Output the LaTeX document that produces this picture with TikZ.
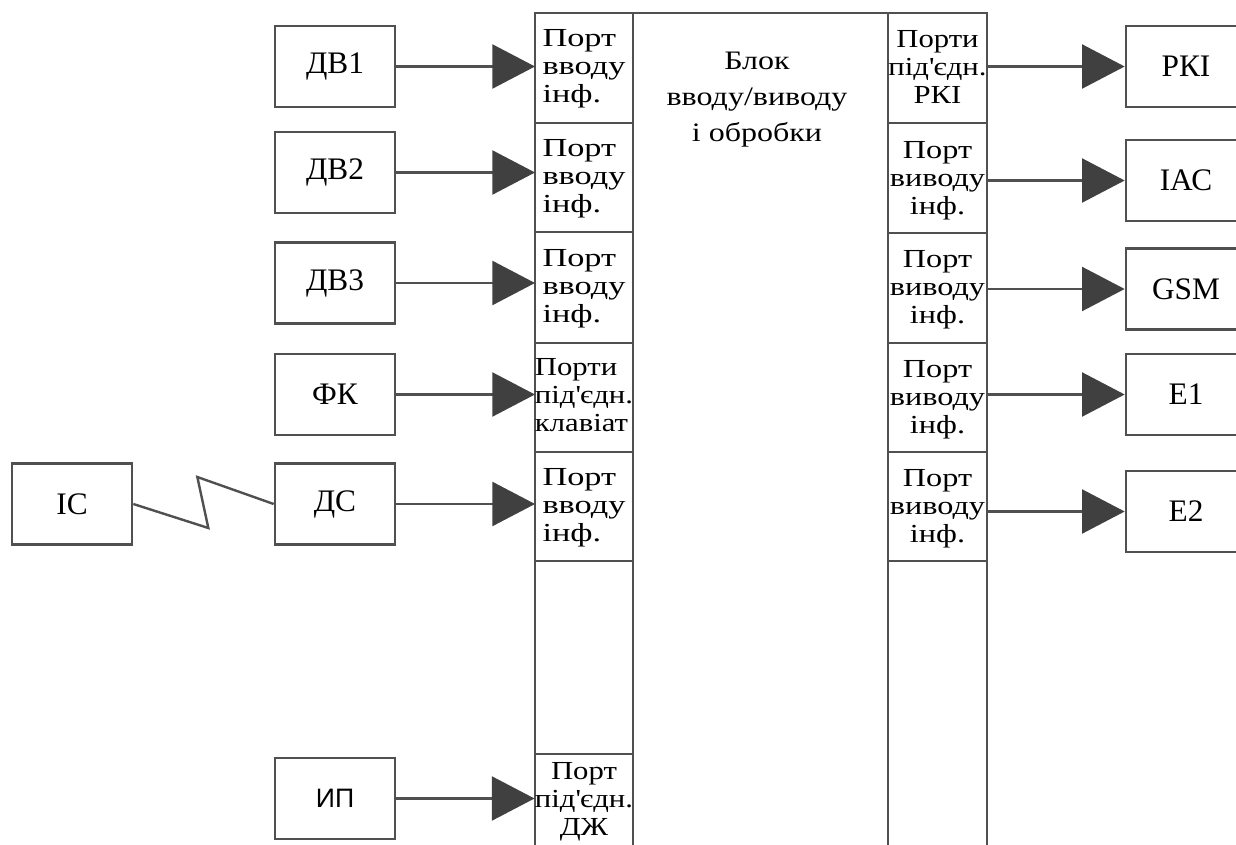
\documentclass[tikz,border=0pt]{standalone}
\usepackage{fontspec}
\setmainfont{Liberation Serif}
\newfontfamily\cellfont{Liberation Serif}[FakeStretch=1.32]
\newfontfamily\outfont{Liberation Serif}[FakeStretch=1.24]
\newfontfamily\narrowfont{Liberation Serif}[FakeStretch=1.18]
\newfontfamily\blockfont{Liberation Serif}[FakeStretch=1.2]
\newfontfamily\ipfont{Liberation Sans}
\usetikzlibrary{arrows.meta}
\definecolor{linegray}{RGB}{80,80,80}
\definecolor{tipgray}{RGB}{64,64,64}

\tikzset{every picture/.style={line width=0.75pt}}
\tikzset{
  unitbox/.style={draw=linegray, line width=2pt, minimum width=90pt, minimum height=60.75pt, inner sep=0pt, font=\fontsize{23.5}{27}\selectfont},
  lport/.style={minimum width=73.5pt, inner sep=0pt, outer sep=0pt, align=left, font=\cellfont\fontsize{19.5}{21}\selectfont},
  rport/.style={minimum width=74.25pt, inner sep=0pt, outer sep=0pt, align=center, font=\outfont\fontsize{19.5}{21}\selectfont},
  narrow/.style={font=\narrowfont\fontsize{19.5}{21}\selectfont},
  frame/.style={draw=linegray, line width=2pt},
  flow/.style={draw=linegray, line width=1.8pt, -{Triangle[length=32pt,width=33pt,color=tipgray]}},
  radiolink/.style={draw=linegray, line width=1.8pt},
}

\begin{document}
\begin{tikzpicture}[x=0.75pt,y=0.75pt,yscale=-1,xscale=1]
\useasboundingbox (0,0) rectangle (1236,845);
\clip (0,0) rectangle (1236,845);
%Shape: Rectangle [main block]
\draw[frame] (535,13) rectangle (987,870);
%Straight Lines [column borders]
\draw[frame] (633,13) -- (633,870);
\draw[frame] (888,13) -- (888,870);
%Straight Lines [left cells]
\foreach \y in {123,232,343,452,561,754}
  \draw[frame] (535,\y) -- (633,\y);
%Straight Lines [right cells]
\foreach \y in {123,233,343,452,561}
  \draw[frame] (888,\y) -- (987,\y);
% Text Node
\node[align=center, inner sep=0pt, font=\blockfont\fontsize{20}{27}\selectfont] (blok) at (757,100) {Блок\\вводу/виводу\\і обробки};
% Text Node [input ports]
\node[lport] (pin1) at (584,69) {Порт\\вводу\\інф.};
\node[lport] (pin2) at (584,179) {Порт\\вводу\\інф.};
\node[lport] (pin3) at (584,289) {Порт\\вводу\\інф.};
\node[lport, narrow] (pkey) at (584,395) {Порти\\під\textquotesingle єдн.\\клавіат};
\node[lport] (pin5) at (584,508) {Порт\\вводу\\інф.};
\node[rport, narrow] (pdz) at (584,802) {Порт\\під\textquotesingle єдн.\\ДЖ};
% Text Node [output ports]
\node[rport, narrow] (prki) at (937.5,67) {Порти\\під\textquotesingle єдн.\\РКІ};
\node[rport] (pout2) at (937.5,181) {Порт\\виводу\\інф.};
\node[rport] (pout3) at (937.5,290) {Порт\\виводу\\інф.};
\node[rport] (pout4) at (937.5,400) {Порт\\виводу\\інф.};
\node[rport] (pout5) at (937.5,509) {Порт\\виводу\\інф.};
%Shape: Rectangle [sources]
\node[unitbox] (dv1) at (335,66.5) {ДВ1};
\node[unitbox] (dv2) at (335,172.5) {ДВ2};
\node[unitbox] (dv3) at (335,283) {ДВ3};
\node[unitbox] (fk) at (335,394.5) {ФК};
\node[unitbox] (ds) at (335,504) {ДС};
\node[unitbox, font=\ipfont\fontsize{20}{24}\selectfont] (ip) at (335,798.5) {ИП};
\node[unitbox] (ic) at (72,504) {ІС};
%Shape: Rectangle [receivers]
\node[unitbox] (rki) at (1186,66.5) {РКІ};
\node[unitbox] (ias) at (1186,180.5) {ІАС};
\node[unitbox] (gsm) at (1186,289) {GSM};
\node[unitbox] (e1) at (1186,394.5) {Е1};
\node[unitbox] (e2) at (1186,511.5) {Е2};
%Straight Lines [inputs]
\draw[flow] (dv1.east) -- (dv1 -| pin1.west);
\draw[flow] (dv2.east) -- (dv2 -| pin2.west);
\draw[flow] (dv3.east) -- (dv3 -| pin3.west);
\draw[flow] (fk.east) -- (fk -| pkey.west);
\draw[flow] (ds.east) -- (ds -| pin5.west);
\draw[flow] (ip.east) -- (ip -| pdz.west);
%Straight Lines [outputs]
\draw[flow] (rki -| prki.east) -- (rki.west);
\draw[flow] (ias -| pout2.east) -- (ias.west);
\draw[flow] (gsm -| pout3.east) -- (gsm.west);
\draw[flow] (e1 -| pout4.east) -- (e1.west);
\draw[flow] (e2 -| pout5.east) -- (e2.west);
%Straight Lines [radio link]
\draw[radiolink] (ic.east) -- ++(75,24) -- ++(-11,-51) -- (ds.west);
\end{tikzpicture}
\end{document}
